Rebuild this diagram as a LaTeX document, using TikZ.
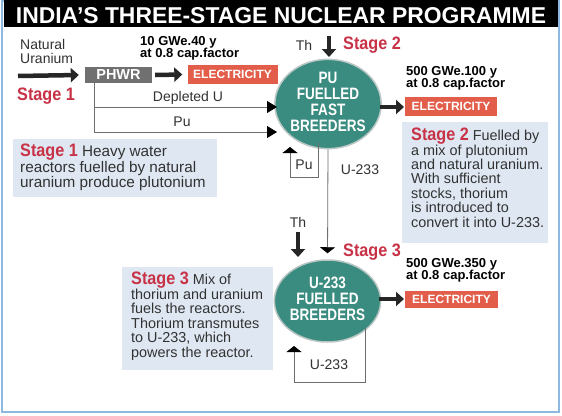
\documentclass[tikz,border=0pt]{standalone}
\usepackage{fontspec}
\usepackage{graphicx}
\setmainfont{Liberation Sans}
\usetikzlibrary{shapes.geometric,arrows.meta}
\definecolor{tealc}{RGB}{58,140,128}
\definecolor{rimc}{RGB}{185,198,196}
\definecolor{elecc}{RGB}{226,94,74}
\definecolor{phwrc}{RGB}{112,112,112}
\definecolor{stagec}{RGB}{200,50,70}
\definecolor{boxc}{RGB}{223,232,242}
\definecolor{framec}{RGB}{143,184,224}
\definecolor{txtc}{RGB}{50,50,50}
\definecolor{linec}{RGB}{110,110,110}
\newcommand\stg[1]{\textcolor{stagec}{\scalebox{0.9}[1]{\bfseries\fontsize{18}{18}\selectfont #1}}}
\newcommand\brtxt[1]{\scalebox{0.82}[1]{\fontsize{16.5}{14.5}\selectfont\bfseries\begin{tabular}{@{}c@{}}#1\end{tabular}}}
\begin{document}
\begin{tikzpicture}[x=1pt,y=-1pt,
  lbl/.style={text=txtc, inner sep=0, font=\fontsize{14}{14}\selectfont},
  boldlbl/.style={text=black, inner sep=0, align=left, font=\bfseries\fontsize{13}{12.5}\selectfont},
  stagelbl/.style={inner sep=0, anchor=west},
  elecbox/.style={fill=elecc, text=white, inner sep=0, minimum width=90, font=\bfseries\fontsize{12}{12}\selectfont},
  infobox/.style={fill=boxc, inner sep=0, anchor=north west},
  bodytxt/.style={text=txtc, inner sep=0, anchor=north west, align=left},
  breeder/.style={ellipse, fill=tealc, draw=rimc, line width=1.5pt, minimum width=100, minimum height=82, inner sep=0, text=white},
  thickarrow/.style={line width=4.5pt, draw=black!85, -{Triangle[length=8pt,width=14pt]}},
  thinh/.style={line width=0.8pt, draw=linec, -{Triangle[length=10pt,width=12pt,color=black]}},
  thinv/.style={line width=0.8pt, draw=linec, -{Triangle[length=6pt,width=15pt,color=black]}},
  thinl/.style={line width=0.8pt, draw=linec}
]
\useasboundingbox (0,0) rectangle (562,415);
\fill[white] (0,0) rectangle (562,415);
\draw[framec, line width=1.2pt] (2,1) rectangle (559,412);
\node[fill=black, minimum width=554, minimum height=27, anchor=north west, inner sep=0] (titlebar) at (3.5,0) {};
\node[text=white, inner sep=0] (title) at (281,15.5) {\resizebox{530pt}{16pt}{\bfseries INDIA'S THREE-STAGE NUCLEAR PROGRAMME}};

% Stage 1
\node[lbl, align=left, anchor=west] (natu) at (20,51) {Natural\\Uranium};
\node[stagelbl] (st1) at (17,96) {\stg{Stage 1}};
\node[fill=phwrc, minimum width=67, minimum height=16, inner sep=0, text=white, font=\bfseries\fontsize{14.5}{14.5}\selectfont] (phwr) at (118.5,75) {PHWR};
\node[elecbox, minimum height=19] (elec1) at (232.5,74.5) {ELECTRICITY};
\node[boldlbl, anchor=north west] (cap1) at (140,36) {10 GWe.40 y\\at 0.8 cap.factor};
\coordinate (nustart) at (18,76);
\draw[thickarrow] (nustart) -- ([xshift=-6pt]phwr.west);
\draw[thickarrow] ([xshift=3pt]phwr.east) -- ([xshift=-5pt]elec1.west);

% breeder 1
\node[breeder] (fb) at (328,104) {\brtxt{PU\\FUELLED\\FAST\\BREEDERS}};
\coordinate (phwrb) at (94,83);
\coordinate (dstart) at (94,107);
\coordinate (dtip) at (277,107);
\coordinate (ptip) at (277,132);
\draw[thinh] (phwrb) |- (ptip);
\draw[thinh] (dstart) -- (dtip);
\node[lbl] (dep) at (188,98) {Depleted U};
\node[lbl] (pu1) at (182,122) {Pu};

\node[lbl] (th1) at (304,45) {Th};
\coordinate (th1a) at (329,36);
\coordinate (th1b) at (329,57);
\draw[thickarrow] (th1a) -- (th1b);
\node[stagelbl] (st2) at (343,45) {\stg{Stage 2}};

\coordinate (o1a) at (380,107);
\coordinate (o1b) at (404,107);
\draw[thickarrow] (o1a) -- (o1b);
\node[elecbox, minimum height=19, minimum width=92] (elec2) at (451,106.5) {ELECTRICITY};
\node[boldlbl, anchor=north west] (cap2) at (406,66) {500 GWe.100 y\\at 0.8 cap.factor};

% Pu loop
\coordinate (pur) at (318,143);
\coordinate (pubr) at (318,177);
\coordinate (publ) at (290,177);
\coordinate (pul) at (290,147);
\draw[thinv] (pur) -- (pubr) -- (publ) -- (pul);
\node[lbl] (pu2) at (304,165) {Pu};

% U-233 down
\node[breeder] (fb2) at (327.5,301) {\brtxt{U-233\\FUELLED\\BREEDERS}};
\draw[thinv, shorten >=6pt] (fb.south) -- (fb2.north);
\node[lbl] (u1) at (360,170) {U-233};

\node[lbl] (th2) at (298,222) {Th};
\coordinate (th2a) at (298,232);
\coordinate (th2b) at (298,257);
\draw[thickarrow] (th2a) -- (th2b);
\node[stagelbl] (st3) at (343,252) {\stg{Stage 3}};

\coordinate (o2a) at (379,299);
\coordinate (o2b) at (404,299);
\draw[thickarrow] (o2a) -- (o2b);
\node[elecbox, minimum height=17, minimum width=93] (elec3) at (451.5,299) {ELECTRICITY};
\node[boldlbl, anchor=north west] (cap3) at (406,258) {500 GWe.350 y\\at 0.8 cap.factor};

% U-233 loop
\coordinate (ur) at (365,328);
\coordinate (ubr) at (365,382);
\coordinate (ubl) at (294,382);
\coordinate (ul) at (294,346);
\draw[thinv] (ur) -- (ubr) -- (ubl) -- (ul);
\node[lbl] (u2) at (329,365) {U-233};

% info boxes
\node[infobox, minimum width=204, minimum height=58] (s1box) at (13,139) {};
\node[bodytxt, font=\fontsize{15.3}{14}\selectfont] (s1txt) at (20,144) {\stg{Stage 1} Heavy water\\reactors fuelled by natural\\uranium produce plutonium};
\node[infobox, minimum width=146, minimum height=121] (s2box) at (402,122) {};
\node[bodytxt, font=\fontsize{14.4}{14.4}\selectfont] (s2txt) at (411,128) {\stg{Stage 2} Fuelled by\\a mix of plutonium\\and natural uranium.\\With sufficient\\stocks, thorium\\is introduced to\\convert it into U-233.};
\node[infobox, minimum width=151, minimum height=103] (s3box) at (122,267) {};
\node[bodytxt, font=\fontsize{14.4}{14.5}\selectfont] (s3txt) at (131,272) {\stg{Stage 3} Mix of\\thorium and uranium\\fuels the reactors.\\Thorium transmutes\\to U-233, which\\powers the reactor.};
\end{tikzpicture}
\end{document}
